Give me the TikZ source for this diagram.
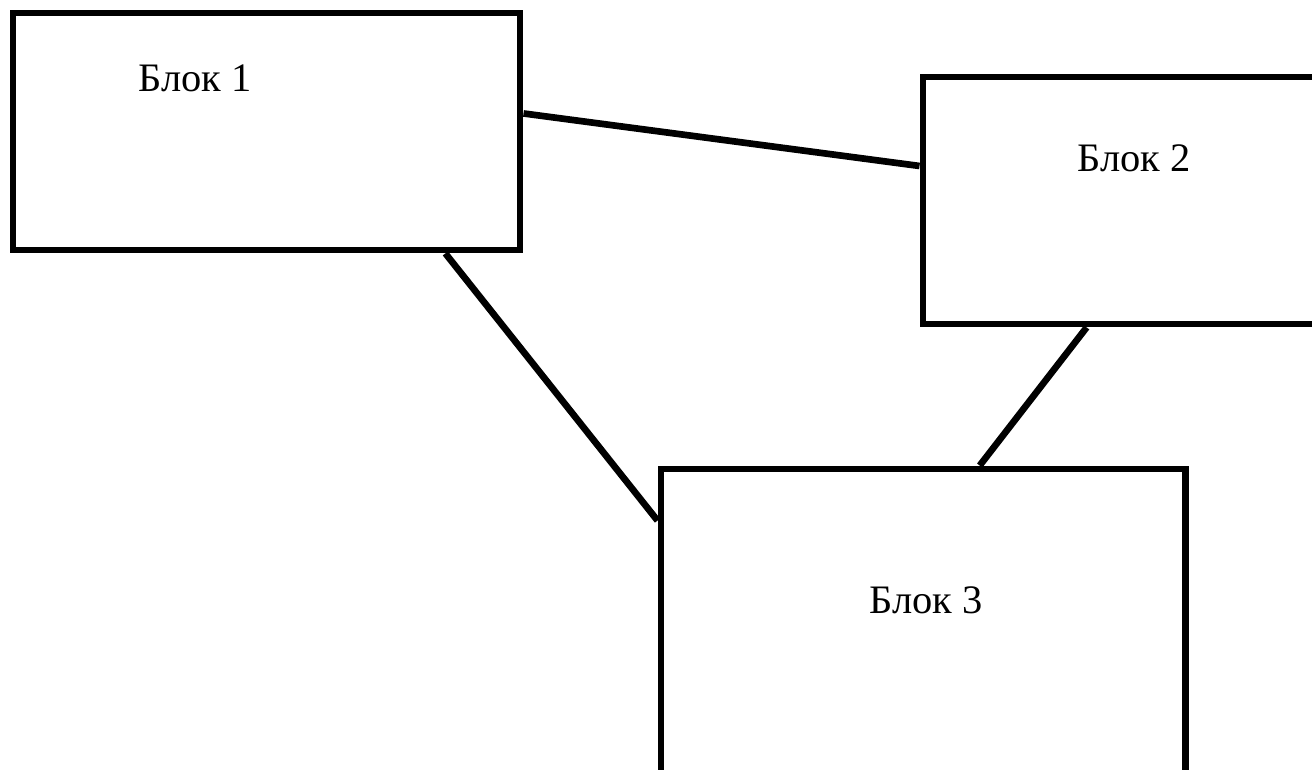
\documentclass[tikz,border=0pt]{standalone}
\usepackage{fontspec}
\setmainfont{Liberation Serif}
\usetikzlibrary{positioning,calc}

\begin{document}
\begin{tikzpicture}[x=0.01cm,y=-0.01cm,line width=1.9pt,
  blockbox/.style={rectangle,draw,inner sep=0pt},
  blocktext/.style={font=\fontsize{11.5pt}{14pt}\selectfont}]
\useasboundingbox (0,0) rectangle (1312,770);
\clip (0,0) rectangle (1312,770);

% blocks
\node[blockbox,minimum width=5.07cm,minimum height=2.37cm,name=block1] at (266.5,131.5) {};
\node[blockbox,minimum width=4.77cm,minimum height=2.47cm,name=block2] at (1161.5,200.5) {};
\node[blockbox,minimum width=5.24cm,minimum height=3.81cm,name=block3] at (923,659.5) {};

% labels
\node[blocktext,name=block1_text] at (195,78) {Блок 1};
\node[blocktext,name=block2_text] at (1134,158) {Блок 2};
\node[blocktext,name=block3_text] at (926,600) {Блок 3};

% links between blocks
\draw ($(block1.north east)!0.426!(block1.south east)$) -- ($(block2.north west)!0.364!(block2.south west)$);
\draw ($(block1.south west)!0.848!(block1.south east)$) -- ([yshift=-0.55cm]block3.north west);
\draw ([xshift=1.67cm]block2.south west) -- ([xshift=3.22cm]block3.north west);
\end{tikzpicture}
\end{document}
